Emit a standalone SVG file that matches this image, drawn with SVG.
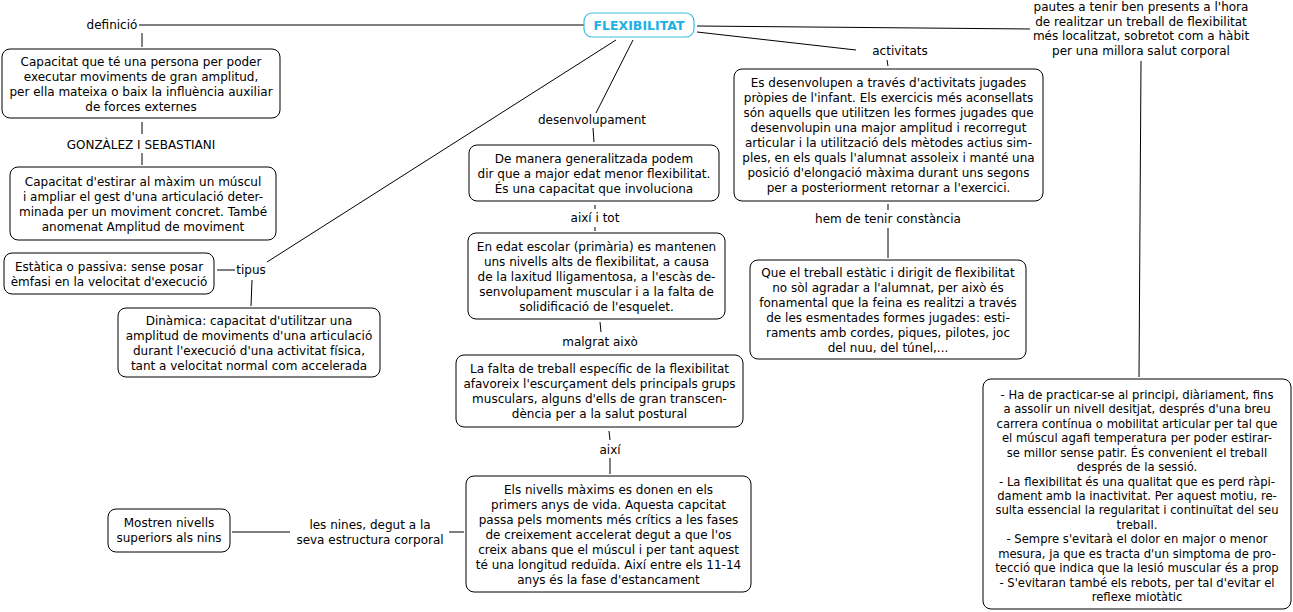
<svg xmlns="http://www.w3.org/2000/svg" width="1293" height="612" viewBox="0 0 1293 612">
<style>
text{font-family:"DejaVu Sans",Verdana,sans-serif;font-size:12px;fill:#000;text-anchor:middle}
.box{fill:#fff;stroke:#000;stroke-width:1}
.title{font-weight:bold;fill:#21b0e3;font-size:12.5px}
.root{fill:#fff;stroke:#38bde9;stroke-width:1.2}
.sm{font-size:11.6px}
#connectors line{stroke:#000;stroke-width:1}
</style>
<rect width="1293" height="612" fill="#fff"/>
<g id="connectors">
<line x1="139" y1="25" x2="584" y2="25"/>
<line x1="142" y1="33" x2="142" y2="47"/>
<line x1="142" y1="122" x2="142" y2="134"/>
<line x1="142" y1="153" x2="142" y2="165"/>
<line x1="616" y1="40" x2="267" y2="262"/>
<line x1="217" y1="270" x2="235" y2="270"/>
<line x1="252" y1="280" x2="251" y2="306"/>
<line x1="633" y1="40" x2="596" y2="113"/>
<line x1="593" y1="128" x2="594" y2="142"/>
<line x1="595" y1="205" x2="595" y2="209"/>
<line x1="595" y1="227" x2="595" y2="231"/>
<line x1="600" y1="322" x2="601" y2="332"/>
<line x1="609" y1="431" x2="610" y2="440"/>
<line x1="610" y1="458" x2="610" y2="474"/>
<line x1="449" y1="532" x2="464" y2="532"/>
<line x1="232" y1="532" x2="290" y2="532"/>
<line x1="697" y1="32" x2="856" y2="50"/>
<line x1="887" y1="60" x2="888" y2="66"/>
<line x1="888" y1="204" x2="888" y2="210"/>
<line x1="888" y1="228" x2="888" y2="258"/>
<line x1="697" y1="26" x2="1030" y2="29"/>
<line x1="1141" y1="61" x2="1139" y2="377"/>
</g>
<g id="n-flex">
<rect class="root" x="584" y="13" width="110" height="24" rx="8"/>
<text class="title" x="639" y="29.5">FLEXIBILITAT</text>
</g>
<g id="n-definicio"><text x="112" y="29">definició</text></g>
<g id="n-box1">
<rect class="box" x="2" y="49" width="278" height="69" rx="8"/>
<text x="141" y="66">Capacitat que té una persona per poder</text>
<text x="141" y="81">executar moviments de gran amplitud,</text>
<text x="141" y="96">per ella mateixa o baix la influència auxiliar</text>
<text x="141" y="111">de forces externes</text>
</g>
<g id="n-gonzalez"><text x="141" y="149">GONZÀLEZ I SEBASTIANI</text></g>
<g id="n-box2">
<rect class="box" x="10" y="167" width="266" height="73" rx="8"/>
<text x="143" y="186">Capacitat d'estirar al màxim un múscul</text>
<text x="143" y="201">i ampliar el gest d'una articulació deter-</text>
<text x="143" y="216">minada per un moviment concret. També</text>
<text x="143" y="231">anomenat Amplitud de moviment</text>
</g>
<g id="n-tipus"><text x="251" y="274">tipus</text></g>
<g id="n-estatica">
<rect class="box" x="4" y="253" width="210" height="41" rx="8"/>
<text x="109" y="271">Estàtica o passiva: sense posar</text>
<text x="109" y="286">èmfasi en la velocitat d'execució</text>
</g>
<g id="n-dinamica">
<rect class="box" x="118" y="308" width="262" height="69" rx="8"/>
<text x="249" y="325">Dinàmica: capacitat d'utilitzar una</text>
<text x="249" y="340">amplitud de moviments d'una articulació</text>
<text x="249" y="355">durant l'execució d'una activitat física,</text>
<text x="249" y="370">tant a velocitat normal com accelerada</text>
</g>
<g id="n-desenv"><text x="592" y="124">desenvolupament</text></g>
<g id="n-demanera">
<rect class="box" x="469" y="145" width="250" height="56" rx="8"/>
<text x="594" y="163">De manera generalitzada podem</text>
<text x="594" y="178">dir que a major edat menor flexibilitat.</text>
<text x="594" y="193">És una capacitat que involuciona</text>
</g>
<g id="n-aixiitot"><text x="595" y="222">així i tot</text></g>
<g id="n-enedat">
<rect class="box" x="468" y="233" width="257" height="86" rx="8"/>
<text x="596.5" y="251">En edat escolar (primària) es mantenen</text>
<text x="596.5" y="266">uns nivells alts de flexibilitat, a causa</text>
<text x="596.5" y="281">de la laxitud lligamentosa, a l'escàs de-</text>
<text x="596.5" y="296">senvolupament muscular i a la falta de</text>
<text x="596.5" y="311">solidificació de l'esquelet.</text>
</g>
<g id="n-malgrat"><text x="600" y="346">malgrat això</text></g>
<g id="n-lafalta">
<rect class="box" x="456" y="355" width="287" height="72" rx="8"/>
<text x="599.5" y="373">La falta de treball específic de la flexibilitat</text>
<text x="599.5" y="388">afavoreix l'escurçament dels principals grups</text>
<text x="599.5" y="403">musculars, alguns d'ells de gran transcen-</text>
<text x="599.5" y="418">dència per a la salut postural</text>
</g>
<g id="n-aixi"><text x="610" y="454">així</text></g>
<g id="n-elsnivells">
<rect class="box" x="466" y="476" width="285" height="116" rx="8"/>
<text x="608.5" y="494">Els nivells màxims es donen en els</text>
<text x="608.5" y="509">primers anys de vida. Aquesta capcitat</text>
<text x="608.5" y="524">passa pels moments més crítics a les fases</text>
<text x="608.5" y="539">de creixement accelerat degut a que l'os</text>
<text x="608.5" y="554">creix abans que el múscul i per tant aquest</text>
<text x="608.5" y="569">té una longitud reduïda. Així entre els 11-14</text>
<text x="608.5" y="584">anys és la fase d'estancament</text>
</g>
<g id="n-lesnines">
<text x="370" y="529">les nines, degut a la</text>
<text x="370" y="544">seva estructura corporal</text>
</g>
<g id="n-mostren">
<rect class="box" x="108" y="509" width="122" height="43" rx="8"/>
<text x="169" y="527">Mostren nivells</text>
<text x="169" y="542">superiors als nins</text>
</g>
<g id="n-activitats"><text x="900" y="55">activitats</text></g>
<g id="n-esdesenv">
<rect class="box" x="734" y="69" width="309" height="132" rx="8"/>
<text x="888.5" y="86.5">Es desenvolupen a través d'activitats jugades</text>
<text x="888.5" y="101.5">pròpies de l'infant. Els exercicis més aconsellats</text>
<text x="888.5" y="116.5">són aquells que utilitzen les formes jugades que</text>
<text x="888.5" y="131.5">desenvolupin una major amplitud i recorregut</text>
<text x="888.5" y="146.5">articular i la utilització dels mètodes actius sim-</text>
<text x="888.5" y="161.5">ples, en els quals l'alumnat assoleix i manté una</text>
<text x="888.5" y="176.5">posició d'elongació màxima durant uns segons</text>
<text x="888.5" y="191.5">per a posteriorment retornar a l'exercici.</text>
</g>
<g id="n-hem"><text x="888" y="223">hem de tenir constància</text></g>
<g id="n-queel">
<rect class="box" x="750" y="260" width="276" height="99" rx="8"/>
<text x="888" y="277">Que el treball estàtic i dirigit de flexibilitat</text>
<text x="888" y="292">no sòl agradar a l'alumnat, per això és</text>
<text x="888" y="307">fonamental que la feina es realitzi a través</text>
<text x="888" y="322">de les esmentades formes jugades: esti-</text>
<text x="888" y="337">raments amb cordes, piques, pilotes, joc</text>
<text x="888" y="352">del nuu, del túnel,...</text>
</g>
<g id="n-pautes">
<text x="1141" y="11">pautes a tenir ben presents a l'hora</text>
<text x="1141" y="25.7">de realitzar un treball de flexibilitat</text>
<text x="1141" y="40.4">més localitzat, sobretot com a hàbit</text>
<text x="1141" y="55">per una millora salut corporal</text>
</g>
<g id="n-hade" class="sm">
<rect class="box" x="983" y="379" width="308" height="230" rx="8"/>
<text class="sm" x="1137" y="399">- Ha de practicar-se al principi, diàriament, fins</text>
<text class="sm" x="1137" y="413.4">a assolir un nivell desitjat, després d'una breu</text>
<text class="sm" x="1137" y="427.9">carrera contínua o mobilitat articular per tal que</text>
<text class="sm" x="1137" y="442.3">el múscul agafi temperatura per poder estirar-</text>
<text class="sm" x="1137" y="456.7">se millor sense patir. És convenient el treball</text>
<text class="sm" x="1137" y="471.2">després de la sessió.</text>
<text class="sm" x="1137" y="485.6">- La flexibilitat és una qualitat que es perd ràpi-</text>
<text class="sm" x="1137" y="500">dament amb la inactivitat. Per aquest motiu, re-</text>
<text class="sm" x="1137" y="514.4">sulta essencial la regularitat i continuïtat del seu</text>
<text class="sm" x="1137" y="528.9">treball.</text>
<text class="sm" x="1137" y="543.3">- Sempre s'evitarà el dolor en major o menor</text>
<text class="sm" x="1137" y="557.7">mesura, ja que es tracta d'un simptoma de pro-</text>
<text class="sm" x="1137" y="572.2">tecció que indica que la lesió muscular és a prop</text>
<text class="sm" x="1137" y="586.6">- S'evitaran també els rebots, per tal d'evitar el</text>
<text class="sm" x="1137" y="601">reflexe miotàtic</text>
</g>
</svg>
